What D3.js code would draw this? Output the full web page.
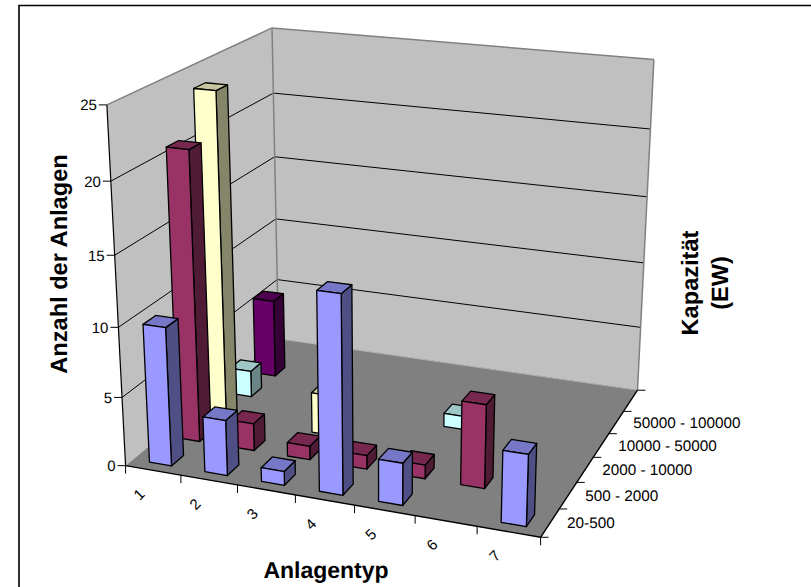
<!DOCTYPE html>
<html><head><meta charset="utf-8">
<script src="https://cdnjs.cloudflare.com/ajax/libs/d3/7.8.5/d3.min.js"></script>
<style>html,body{margin:0;padding:0;background:#fff}svg{display:block}text{font-family:"Liberation Sans",Arial,sans-serif;fill:#000;text-rendering:geometricPrecision}</style>
</head><body><svg id="c" width="811" height="587"></svg>
<script>
// ---- data ----
const categories = ["1","2","3","4","5","6","7"];
const capacities = ["20-500","500 - 2000","2000 - 10000","10000 - 50000","50000 - 100000",""];
const valueTicks = [0,5,10,15,20,25];
const series20to500      = [10,4,1,14,3,0,5];
const series500to2000    = [21,2,1,1,1,6,0];
const series2000to10000  = [24,0,3,0,0,0,0];
const series10000to50000 = [2,0,0,0,1,0,0];
const series50000to100000= [6,0,0,0,0,0,0];
const seriesValues = [series20to500,series500to2000,series2000to10000,series10000to50000,series50000to100000,[0,0,0,0,0,0,0]];
const seriesColors = [
 {front:"#9999ff",side:"#4f4f85",top:"#7777c7"},
 {front:"#993366",side:"#501b35",top:"#77284f"},
 {front:"#ffffcc",side:"#85856a",top:"#c7c79f"},
 {front:"#ccffff",side:"#6a8585",top:"#9fc7c7"},
 {front:"#660066",side:"#350035",top:"#500050"},
 {front:"#ff8080",side:"#854343",top:"#c76464"}];
// camera calibration: where the plot box's reference points appear [x-frac, depth-frac, value-frac, px, py]
const cameraAnchors = [
 [0,0,0,125,465],[1,0,0,541,537],[1,1,0,637,390],[0,1,0,279,339],
 [0,0,1,107,105],[0,1,1,272,28],[1,1,1,654,59],
 [0,0,.2,122,398],[0,0,.4,118,327],[0,0,.6,115,256],[0,0,.8,111,181],
 [0,1,.2,277,280],[0,1,.4,276,218],[0,1,.6,275,157],[0,1,.8,273,93],
 [1,1,.2,641,328],[1,1,.4,644,263],[1,1,.6,647,197],[1,1,.8,650,129]];

// ---- least squares projective camera ----
function fitCamera(pts){
  const n=11,A=d3.range(n).map(()=>new Array(n+1).fill(0));
  const add=(r,b)=>{for(let i=0;i<n;i++){for(let j=0;j<n;j++)A[i][j]+=r[i]*r[j];A[i][n]+=r[i]*b;}};
  pts.forEach(([u,v,w,x,y])=>{
    add([u,v,w,1,0,0,0,0,-x*u,-x*v,-x*w],x);
    add([0,0,0,0,u,v,w,1,-y*u,-y*v,-y*w],y);
  });
  for(let i=0;i<n;i++){
    let p=i;for(let k=i+1;k<n;k++)if(Math.abs(A[k][i])>Math.abs(A[p][i]))p=k;
    [A[i],A[p]]=[A[p],A[i]];
    for(let k=0;k<n;k++){if(k===i)continue;const f=A[k][i]/A[i][i];for(let j=i;j<=n;j++)A[k][j]-=f*A[i][j];}
  }
  return A.map((r,i)=>r[n]/r[i]);
}
const m=fitCamera(cameraAnchors);
const project=(u,v,w)=>{const d=m[8]*u+m[9]*v+m[10]*w+1;return [(m[0]*u+m[1]*v+m[2]*w+m[3])/d,(m[4]*u+m[5]*v+m[6]*w+m[7])/d];};

// ---- scales ----
const uEdge=d3.scaleLinear().domain([0,categories.length]).range([0,1]);
const vEdge=d3.scaleLinear().domain([0,capacities.length]).range([0,1]);
const uBand=d3.scaleBand().domain(categories).range([0,1]).paddingInner(.6).paddingOuter(.3);
const vBand=d3.scaleBand().domain(d3.range(capacities.length)).range([0,1]).paddingInner(.58).paddingOuter(.25);
const wScale=d3.scaleLinear().domain([0,25]).range([0,1]);

const svg=d3.select("#c");
const line=d3.line();
const poly=(g,pts,fill,stroke,sw)=>g.append("path").attr("d",line(pts)+"Z").attr("fill",fill).attr("stroke",stroke||"none").attr("stroke-width",sw||0).attr("stroke-linejoin","round");
const seg=(g,a,b,stroke,sw)=>g.append("line").attr("x1",a[0]).attr("y1",a[1]).attr("x2",b[0]).attr("y2",b[1]).attr("stroke",stroke).attr("stroke-width",sw);

// frame (runs off the right and bottom of the picture)
svg.append("path").attr("d","M19,587V5.5H811").attr("fill","none").attr("stroke","#000").attr("stroke-width",1.6);

// walls and floor
const gw=svg.append("g");
poly(gw,[project(0,0,0),project(0,1,0),project(0,1,1),project(0,0,1)],"#c0c0c0");
poly(gw,[project(0,1,0),project(1,1,0),project(1,1,1),project(0,1,1)],"#c0c0c0");
valueTicks.slice(1,-1).forEach(t=>{const w=wScale(t);
  seg(gw,project(0,0,w),project(0,1,w),"#000",1);
  seg(gw,project(0,1,w),project(1,1,w),"#000",1);});
poly(gw,[project(0,0,0),project(1,0,0),project(1,1,0),project(0,1,0)],"#808080");
seg(gw,project(0,0,1),project(0,1,1),"#808080",1.5);
seg(gw,project(0,1,1),project(1,1,1),"#808080",1.5);
seg(gw,project(0,1,0),project(0,1,1),"#808080",1.5);
seg(gw,project(1,1,0),project(1,1,1),"#808080",1.5);
gw.append("path").attr("d",line([project(0,1,0),project(1,1,0)])).attr("stroke","#a0a0a0").attr("stroke-dasharray","5 2").attr("fill","none");
seg(gw,project(0,0,0),project(0,0,1),"#000",1.2);
seg(gw,project(0,0,0),project(1,0,0),"#000",1.4);
seg(gw,project(1,0,0),project(1,1,0),"#000",1.4);

// axes
const ga=svg.append("g");
valueTicks.forEach(t=>{const p=project(0,0,wScale(t));
  seg(ga,[p[0]-8,p[1]],p,"#000",1);
  ga.append("text").attr("x",p[0]-10).attr("y",p[1]+5.5).attr("text-anchor","end").attr("font-size",15).text(t);});
d3.range(categories.length+1).forEach(i=>{const p=project(uEdge(i),0,0);seg(ga,p,[p[0],p[1]+8],"#000",1);});
categories.forEach((c,i)=>{const p=project(uEdge(i+.5),0,0);
  ga.append("text").attr("transform",`translate(${p[0]-14},${p[1]+24}) rotate(-45)`).attr("text-anchor","middle").attr("dy","0.35em").attr("font-size",15).text(c);});
d3.range(capacities.length+1).forEach(i=>{const p=project(1,vEdge(i),0);seg(ga,p,[p[0]+8,p[1]],"#000",1);});
capacities.forEach((c,i)=>{const p=project(1,vEdge(i+.5),0);
  ga.append("text").attr("x",p[0]+17).attr("y",p[1]+5.5).attr("font-size",15.3).text(c);});

// bars, painted back to front
const gb=svg.append("g");
d3.range(capacities.length).reverse().forEach(si=>{
  categories.forEach((c,ci)=>{
    const val=seriesValues[si][ci]; if(!val) return;
    const u0=uBand(c),u1=u0+uBand.bandwidth(),v0=vBand(si),v1=v0+vBand.bandwidth(),w=wScale(val),col=seriesColors[si];
    poly(gb,[project(u1,v0,0),project(u1,v1,0),project(u1,v1,w),project(u1,v0,w)],col.side,"#000",1.3);
    poly(gb,[project(u0,v0,w),project(u1,v0,w),project(u1,v1,w),project(u0,v1,w)],col.top,"#000",1.3);
    poly(gb,[project(u0,v0,0),project(u1,v0,0),project(u1,v0,w),project(u0,v0,w)],col.front,"#000",1.3);
  });
});

// titles
const bold=(s,x,y,rot,size)=>svg.append("text").attr("transform",`translate(${x},${y}) rotate(${rot})`).attr("text-anchor","middle").attr("font-weight","bold").attr("font-size",size).text(s);
bold("Anlagentyp",326,578,0,23);
bold("Anzahl der Anlagen",66.5,264,-90,23.6);
bold("Kapazität",698,283,-90,23.6);
bold("(EW)",728,283,-90,23.6);
</script></body></html>
